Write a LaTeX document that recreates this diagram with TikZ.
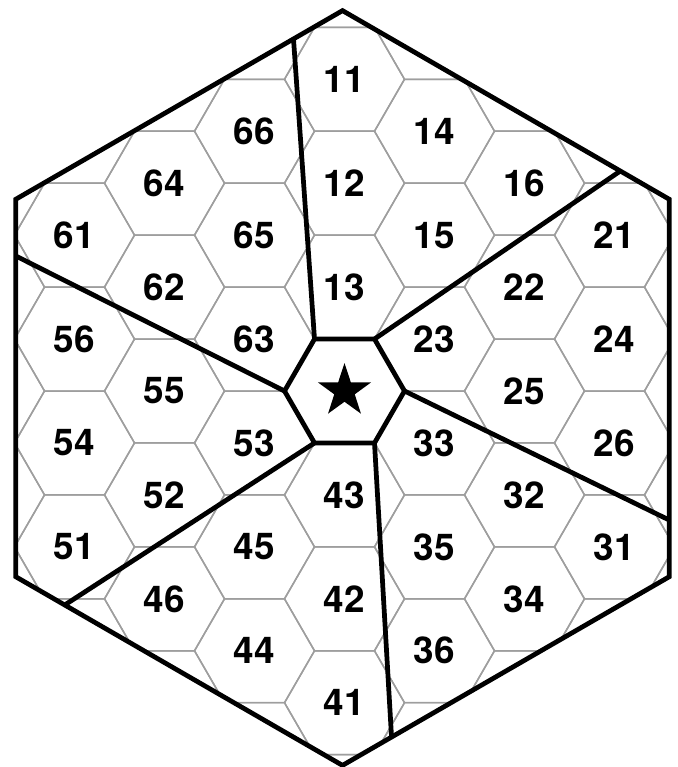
\documentclass[tikz,border=0pt]{standalone}
\usepackage{fontspec}
\setmainfont{TeX Gyre Heros}
\usetikzlibrary{calc,shapes.geometric}
\begin{document}
\begin{tikzpicture}[x=1.2cm, y=1.2cm, line width=0.5pt,
  cellgrid/.style={line width=0.85pt, black!38},
  border/.style={line width=2.7pt, line join=miter},
  cell/.style={font=\fontsize{21}{21}\selectfont\bfseries, inner sep=0pt}]
  \useasboundingbox (-5.742,-6.267) rectangle (5.558,6.517);
  \coordinate (oc) at (-0.033,0.05);
  \foreach \i in {0,...,5} \coordinate (o\i) at ($(oc)+(30+60*\i:6.29)$);
  \foreach \i in {0,...,5} \coordinate (v\i) at (60*\i:1);
  \begin{scope}
    \clip (o0) -- (o1) -- (o2) -- (o3) -- (o4) -- (o5) -- cycle;
    \foreach \q in {-5,...,5}
      \foreach \m in {-7,...,7}
        \draw[cellgrid] ({1.5*\q+1}, {1.732*(\m+0.5*\q)}) -- ++(120:1) -- ++(180:1) -- ++(240:1) -- ++(300:1) -- ++(0:1) -- cycle;
  \end{scope}
  \draw[border] (o0) -- (o1) -- (o2) -- (o3) -- (o4) -- (o5) -- cycle;
  \draw[border] (v0) -- (v1) -- (v2) -- (v3) -- (v4) -- (v5) -- cycle;
  \foreach \i in {0,...,5} {
    \pgfmathtruncatemacro\j{mod(\i+5,6)}
    \draw[border] (v\i) -- ($(o\j)!0.15!(o\i)$);
  }
  \node[star, star points=5, star point ratio=2.6, fill, minimum size=1.12cm, inner sep=0pt] (hub) at (0,0) {};
  \foreach \q/\k/\t in {0/6/11, 0/4/12, 0/2/13, 1/5/14, 1/3/15, 2/4/16,
      3/3/21, 2/2/22, 1/1/23, 3/1/24, 2/0/25, 3/-1/26,
      3/-3/31, 2/-2/32, 1/-1/33, 2/-4/34, 1/-3/35, 1/-5/36,
      0/-6/41, 0/-4/42, 0/-2/43, -1/-5/44, -1/-3/45, -2/-4/46,
      -3/-3/51, -2/-2/52, -1/-1/53, -3/-1/54, -2/0/55, -3/1/56,
      -3/3/61, -2/2/62, -1/1/63, -2/4/64, -1/3/65, -1/5/66}
    \node[cell] (c\t) at ({1.5*\q}, {0.866*\k}) {\t};
\end{tikzpicture}
\end{document}
